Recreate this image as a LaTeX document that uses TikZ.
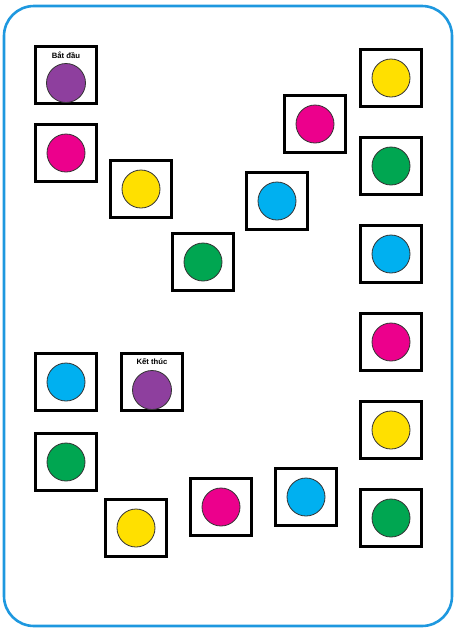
\documentclass[tikz,border=0pt]{standalone}
\usepackage{fontspec}
\setmainfont{Liberation Sans}
\definecolor{cpurple}{HTML}{8E3F9E}
\definecolor{cmagenta}{HTML}{EC008C}
\definecolor{cyellow}{HTML}{FFE000}
\definecolor{cgreen}{HTML}{00A651}
\definecolor{cblue}{HTML}{00B0F0}
\definecolor{frameblue}{HTML}{1E98DF}
\begin{document}
\begin{tikzpicture}[x=1pt,y=-1pt,
  cell/.style={draw=black,line width=3pt,minimum width=61pt,minimum height=57pt,inner sep=0pt,fill=white},
  dot/.style={draw=black!80,line width=0.8pt,circle,minimum size=38pt,inner sep=0pt,fill=#1},
  lbl/.style={font=\bfseries\fontsize{7.7pt}{8.5pt}\selectfont,inner sep=0pt}]
\useasboundingbox (0,0) rectangle (456,630);
\draw[frameblue,line width=2.6pt,rounded corners=30pt] (4,6) rectangle (452,626);
% start
\node[cell] (s) at (66,75) {};
\node[lbl] (sl) at (66,55) {Bắt đầu};
\node[dot=cpurple,minimum size=39pt] (sc) at (66,83) {};
% path
\node[cell] (b1) at (66,153) {};
\node[dot=cmagenta] (c1) at (66,153) {};
\node[cell] (b2) at (141,189) {};
\node[dot=cyellow] (c2) at (141,189) {};
\node[cell] (b3) at (203,262) {};
\node[dot=cgreen] (c3) at (203,262) {};
\node[cell] (b4) at (277,201) {};
\node[dot=cblue] (c4) at (277,201) {};
\node[cell] (b5) at (315,124) {};
\node[dot=cmagenta] (c5) at (315,124) {};
\node[cell] (b6) at (391,78) {};
\node[dot=cyellow] (c6) at (391,78) {};
\node[cell] (b7) at (391,166) {};
\node[dot=cgreen] (c7) at (391,166) {};
\node[cell] (b8) at (391,254) {};
\node[dot=cblue] (c8) at (391,254) {};
\node[cell] (b9) at (391,342) {};
\node[dot=cmagenta] (c9) at (391,342) {};
\node[cell] (b10) at (391,430) {};
\node[dot=cyellow] (c10) at (391,430) {};
\node[cell] (b11) at (391,518) {};
\node[dot=cgreen] (c11) at (391,518) {};
\node[cell] (b12) at (306,497) {};
\node[dot=cblue] (c12) at (306,497) {};
\node[cell] (b13) at (221,507) {};
\node[dot=cmagenta] (c13) at (221,507) {};
\node[cell] (b14) at (136,528) {};
\node[dot=cyellow] (c14) at (136,528) {};
\node[cell] (b15) at (66,462) {};
\node[dot=cgreen] (c15) at (66,462) {};
\node[cell] (b16) at (66,382) {};
\node[dot=cblue] (c16) at (66,382) {};
% end
\node[cell] (e) at (152,382) {};
\node[lbl] (el) at (152,362) {Kết thúc};
\node[dot=cpurple,minimum size=39pt] (ec) at (152,390) {};
\end{tikzpicture}
\end{document}
